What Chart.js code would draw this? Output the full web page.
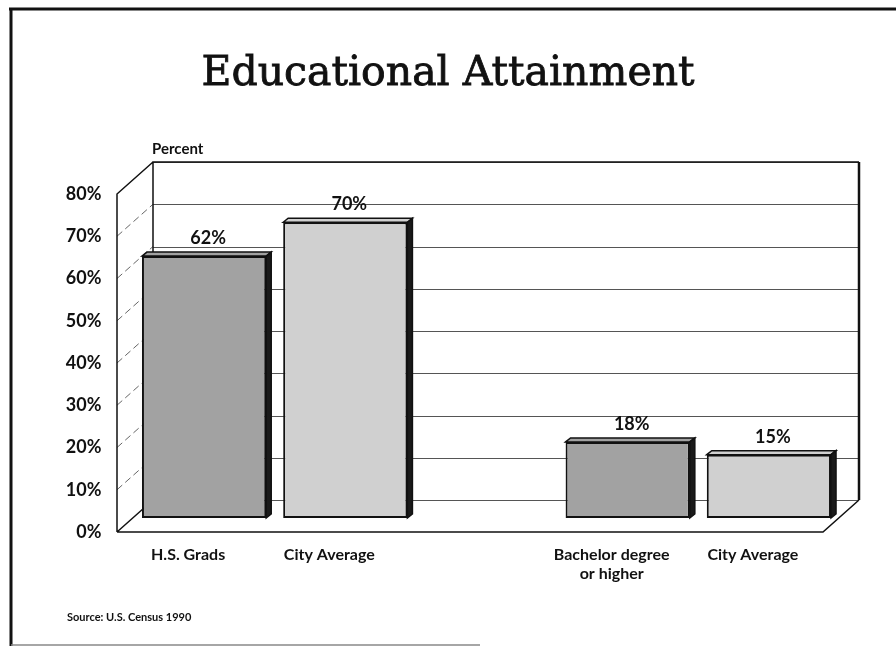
<!DOCTYPE html>
<html>
<head>
<meta charset="utf-8">
<script src="https://cdn.jsdelivr.net/npm/chart.js@4.4.0/dist/chart.umd.min.js"></script>
<style>
  html, body { margin: 0; padding: 0; background: #fff; }
  #wrap { width: 896px; height: 650px; }
</style>
</head>
<body>
<div id="wrap"><canvas id="chart" width="896" height="650"></canvas></div>
<script>
// data
const categories = ['H.S. Grads', 'City Average', '', ['Bachelor degree', 'or higher'], 'City Average'];
const percentValues = [62, 70, null, 18, 15];
const yTickValues = [0, 10, 20, 30, 40, 50, 60, 70, 80];
const titleText = 'Educational Attainment';
const axisTitle = 'Percent';
const sourceText = 'Source: U.S. Census 1990';

const darkGray = '#a2a2a2';
const lightGray = '#d0d0d0';
const barColors = [darkGray, lightGray, lightGray, darkGray, lightGray];

// depth offsets of the fake 3D box, relative to the plane the bars stand on
const FRONT = { dx: -16.5, dy: 14 };
const BACK = { dx: 19.5, dy: -18 };
const labelFont = 'Lato, "DejaVu Sans", sans-serif';

const frame3d = {
    id: 'frame3d',
    beforeDraw(chart) {
        const ctx = chart.ctx;
        ctx.save();
        ctx.fillStyle = '#fff';
        ctx.fillRect(0, 0, chart.width, chart.height);

        // scan border (top + left heavy, bottom faint)
        ctx.strokeStyle = '#111';
        ctx.lineWidth = 3;
        ctx.beginPath();
        ctx.moveTo(9, 9); ctx.lineTo(896, 9);
        ctx.moveTo(11, 8); ctx.lineTo(11, 646);
        ctx.stroke();
        ctx.strokeStyle = '#888';
        ctx.lineWidth = 1.5;
        ctx.beginPath();
        ctx.moveTo(11, 645); ctx.lineTo(480, 645);
        ctx.stroke();

        // title, a bit heavier than the regular face
        ctx.fillStyle = '#111';
        ctx.strokeStyle = '#111';
        ctx.lineWidth = 0.8;
        ctx.font = '41px "DejaVu Serif", serif';
        ctx.textAlign = 'center';
        ctx.textBaseline = 'alphabetic';
        ctx.fillText(titleText, 448, 85);
        ctx.strokeText(titleText, 448, 85);

        ctx.font = 'bold 15px ' + labelFont;
        ctx.textAlign = 'left';
        ctx.fillText(axisTitle, 152, 154);

        ctx.font = 'bold 11px ' + labelFont;
        ctx.fillText(sourceText, 67, 621);
        ctx.restore();
    },
    beforeDatasetsDraw(chart) {
        const { ctx, chartArea: a, scales: { y } } = chart;
        const top = y.getPixelForValue(yTickValues[yTickValues.length - 1]);
        const bot = y.getPixelForValue(0);
        const bl = a.left + BACK.dx, br = a.right + BACK.dx;
        const fl = a.left + FRONT.dx, fr = a.right + FRONT.dx;
        ctx.save();

        // back wall grid lines
        ctx.strokeStyle = '#555';
        ctx.lineWidth = 1;
        yTickValues.forEach(v => {
            const py = Math.round(y.getPixelForValue(v) + BACK.dy) + 0.5;
            ctx.beginPath();
            ctx.moveTo(bl, py); ctx.lineTo(br, py);
            ctx.stroke();
        });

        // left wall diagonals
        ctx.strokeStyle = '#666';
        ctx.setLineDash([7, 4]);
        yTickValues.slice(1, -1).forEach(v => {
            const py = y.getPixelForValue(v);
            ctx.beginPath();
            ctx.moveTo(fl, py + FRONT.dy); ctx.lineTo(bl, py + BACK.dy);
            ctx.stroke();
        });
        ctx.setLineDash([]);

        // box outline
        ctx.strokeStyle = '#111';
        ctx.lineWidth = 1.5;
        ctx.beginPath();
        ctx.moveTo(bl, bot + BACK.dy); ctx.lineTo(bl, top + BACK.dy); ctx.lineTo(br, top + BACK.dy);
        ctx.moveTo(fl, bot + FRONT.dy); ctx.lineTo(fl, top + FRONT.dy); ctx.lineTo(bl, top + BACK.dy);
        ctx.moveTo(fl, bot + FRONT.dy); ctx.lineTo(bl, bot + BACK.dy);
        ctx.moveTo(fl, bot + FRONT.dy); ctx.lineTo(fr, bot + FRONT.dy); ctx.lineTo(br, bot + BACK.dy);
        ctx.stroke();
        ctx.lineWidth = 2.5;
        ctx.beginPath();
        ctx.moveTo(br, top + BACK.dy); ctx.lineTo(br, bot + BACK.dy);
        ctx.stroke();
        ctx.restore();
    },
    afterDatasetsDraw(chart) {
        const ctx = chart.ctx;
        const meta = chart.getDatasetMeta(0);
        ctx.save();
        meta.data.forEach((bar, i) => {
            const v = percentValues[i];
            if (v === null) return;
            const l = bar.x - bar.width / 2, r = bar.x + bar.width / 2;
            const t = bar.y, b = bar.base;
            const d = 5, h = 4;
            // top face
            ctx.fillStyle = barColors[i];
            ctx.strokeStyle = '#111';
            ctx.lineWidth = 1.5;
            ctx.beginPath();
            ctx.moveTo(l, t); ctx.lineTo(l + d, t - h); ctx.lineTo(r + d, t - h); ctx.lineTo(r, t);
            ctx.closePath();
            ctx.fill(); ctx.stroke();
            // right side face
            ctx.fillStyle = '#1a1a1a';
            ctx.beginPath();
            ctx.moveTo(r, t); ctx.lineTo(r + d, t - h); ctx.lineTo(r + d, b - h); ctx.lineTo(r, b);
            ctx.closePath();
            ctx.fill(); ctx.stroke();
            // value label
            ctx.fillStyle = '#111';
            ctx.font = 'bold 18px ' + labelFont;
            ctx.textAlign = 'center';
            ctx.textBaseline = 'alphabetic';
            ctx.fillText(v + '%', bar.x + 4, t - 12);
        });
        ctx.restore();
    }
};

new Chart(document.getElementById('chart').getContext('2d'), {
    type: 'bar',
    data: {
        labels: categories,
        datasets: [{
            data: percentValues,
            backgroundColor: barColors,
            borderColor: '#111',
            borderWidth: 2,
            borderSkipped: false,
            barPercentage: 0.88,
            categoryPercentage: 1
        }]
    },
    options: {
        responsive: false,
        animation: false,
        layout: { padding: { left: 0, right: 56.5, top: 180, bottom: 0 } },
        plugins: {
            legend: { display: false },
            title: { display: false },
            tooltip: { enabled: false }
        },
        scales: {
            x: {
                grid: { display: false, drawTicks: false },
                border: { display: false },
                ticks: {
                    color: '#111',
                    font: { family: labelFont, size: 16, weight: 'bold', lineHeight: 1.2 },
                    labelOffset: -16,
                    padding: 27,
                    maxRotation: 0,
                    autoSkip: false
                },
                afterFit(scale) { scale.height = 132; }
            },
            y: {
                min: 0,
                max: 80,
                grid: { display: false, drawTicks: false },
                border: { display: false },
                afterBuildTicks(scale) { scale.ticks = yTickValues.map(v => ({ value: v })); },
                ticks: {
                    color: '#111',
                    font: { family: labelFont, size: 18, weight: 'bold' },
                    callback: v => v + '%',
                    labelOffset: 14,
                    padding: 32
                },
                afterFit(scale) { scale.width = 133.5; }
            }
        }
    },
    plugins: [frame3d]
});
</script>
</body>
</html>
